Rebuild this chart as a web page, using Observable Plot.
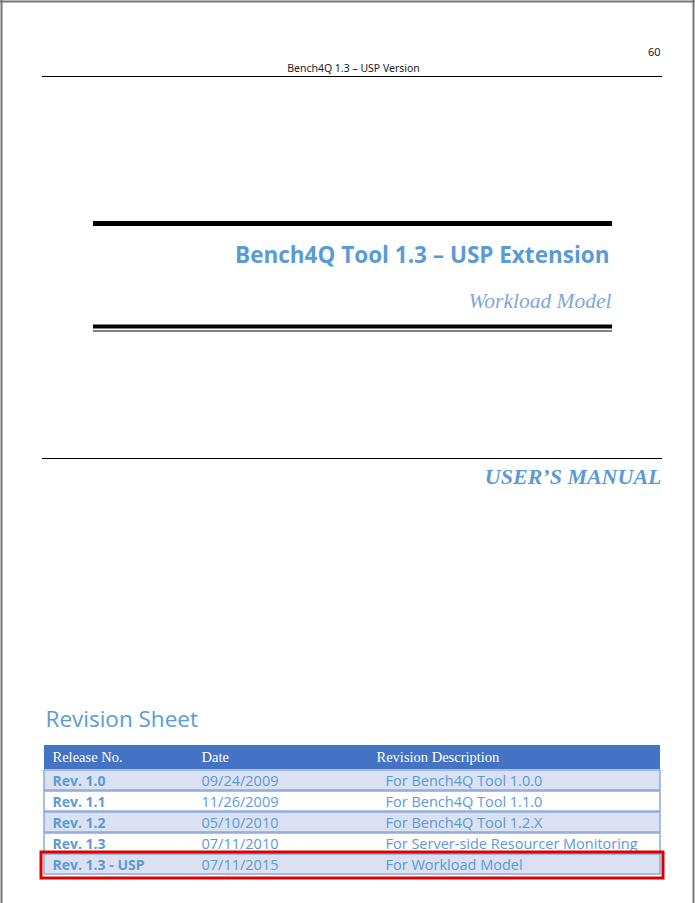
<!DOCTYPE html>
<html><head><meta charset="utf-8">
<script src="https://cdn.jsdelivr.net/npm/d3@7"></script>
<script src="https://cdn.jsdelivr.net/npm/@observablehq/plot@0.6"></script>
<style>body{margin:0;background:#fff}</style>
</head><body><div id="c"></div>
<script>
const pageNumber = "60";
const headerText = "Bench4Q 1.3 – USP Version";
const titleText = "Bench4Q Tool 1.3 – USP Extension";
const subtitleText = "Workload Model";
const manualText = "USER’S MANUAL";
const sheetTitle = "Revision Sheet";
const columns = ["Release No.", "Date", "Revision Description"];
const releases = ["Rev. 1.0", "Rev. 1.1", "Rev. 1.2", "Rev. 1.3", "Rev. 1.3 - USP"];
const dates = ["09/24/2009", "11/26/2009", "05/10/2010", "07/11/2010", "07/11/2015"];
const descriptions = ["For Bench4Q Tool 1.0.0", "For Bench4Q Tool 1.1.0", "For Bench4Q Tool 1.2.X", "For Server-side Resourcer Monitoring", "For Workload Model"];

const rows = releases.map((r, i) => ({i, release: r, date: dates[i], desc: descriptions[i]}));
const rowTop = i => 770 + i * 21, rowBot = i => 789 + i * 21;
const colX = [52, 201, 385], headX = [52, 201, 376];
const blue = "#5B9BD5";

const chart = Plot.plot({
  width: 695, height: 903, margin: 0,
  x: {domain: [0, 695], range: [0, 695], axis: null},
  y: {domain: [0, 903], range: [0, 903], axis: null},
  style: {background: "#fff"},
  marks: [
    Plot.ruleX([1], {y1: 0, y2: 903, stroke: "#777", strokeWidth: 2}),
    Plot.ruleY([1], {x1: 0, x2: 695, stroke: "#777", strokeWidth: 2}),
    Plot.ruleX([693], {y1: 0, y2: 903, stroke: "#777", strokeWidth: 2}),
    Plot.text([pageNumber], {x: 660, y: 52, text: d => d, textAnchor: "end", fontSize: 11, fontFamily: "Noto Sans", fill: "#222"}),
    Plot.text([headerText], {x: 353, y: 68, text: d => d, fontSize: 10.5, fontFamily: "Noto Sans", fill: "#222"}),
    Plot.ruleY([76], {x1: 42, x2: 662, stroke: "#000", strokeWidth: 1}),
    Plot.ruleY([223], {x1: 93, x2: 612, stroke: "#000", strokeWidth: 5}),
    Plot.text([titleText], {x: 609, y: 255, text: d => d, textAnchor: "end", fontSize: 22.5, fontWeight: "bold", fontFamily: "Open Sans", fill: blue}),
    Plot.text([subtitleText], {x: 611, y: 301, text: d => d, textAnchor: "end", fontSize: 21.5, fontStyle: "italic", fontFamily: "Liberation Serif", fill: "#7FA7D9"}),
    Plot.ruleY([326], {x1: 93, x2: 612, stroke: "#000", strokeWidth: 4}),
    Plot.ruleY([330.5], {x1: 93, x2: 612, stroke: "#000", strokeWidth: 1}),
    Plot.ruleY([458], {x1: 42, x2: 662, stroke: "#000", strokeWidth: 1}),
    Plot.text([manualText], {x: 661, y: 476, text: d => d, textAnchor: "end", fontSize: 22, fontStyle: "italic", fontWeight: "bold", fontFamily: "Liberation Serif", fill: blue, letterSpacing: -1.5}),
    Plot.text([sheetTitle], {x: 45, y: 719, text: d => d, textAnchor: "start", fontSize: 22.5, fontFamily: "Open Sans", fill: blue}),
    Plot.rect([0], {x1: 44, x2: 660, y1: 745, y2: 769, fill: "#4472C4"}),
    Plot.text(columns, {x: (d, i) => headX[i], y: 757, text: d => d, textAnchor: "start", fontSize: 14.5, fontFamily: "Liberation Serif", fill: "#fff"}),
    Plot.rect(rows, {x1: 44, x2: 660, y1: d => rowTop(d.i), y2: d => rowBot(d.i) + 1, fill: d => d.i % 2 === 0 ? "#D9E1F2" : "#fff", stroke: "#8EA9DB", strokeWidth: 1.5}),
    Plot.text(rows, {x: colX[0], y: d => rowTop(d.i) + 11, text: "release", textAnchor: "start", fontSize: 14, fontWeight: "bold", fontFamily: "Open Sans", fill: blue}),
    Plot.text(rows, {x: colX[1], y: d => rowTop(d.i) + 11, text: "date", textAnchor: "start", fontSize: 14.5, fontFamily: "Open Sans", fill: blue}),
    Plot.text(rows, {x: colX[2], y: d => rowTop(d.i) + 11, text: "desc", textAnchor: "start", fontSize: 14.5, fontFamily: "Open Sans", fill: blue}),
    Plot.rect([0], {x1: 41, x2: 663, y1: 852, y2: 878, fill: "none", stroke: "#E00000", strokeWidth: 3})
  ]
});
document.getElementById("c").append(chart);
</script></body></html>
